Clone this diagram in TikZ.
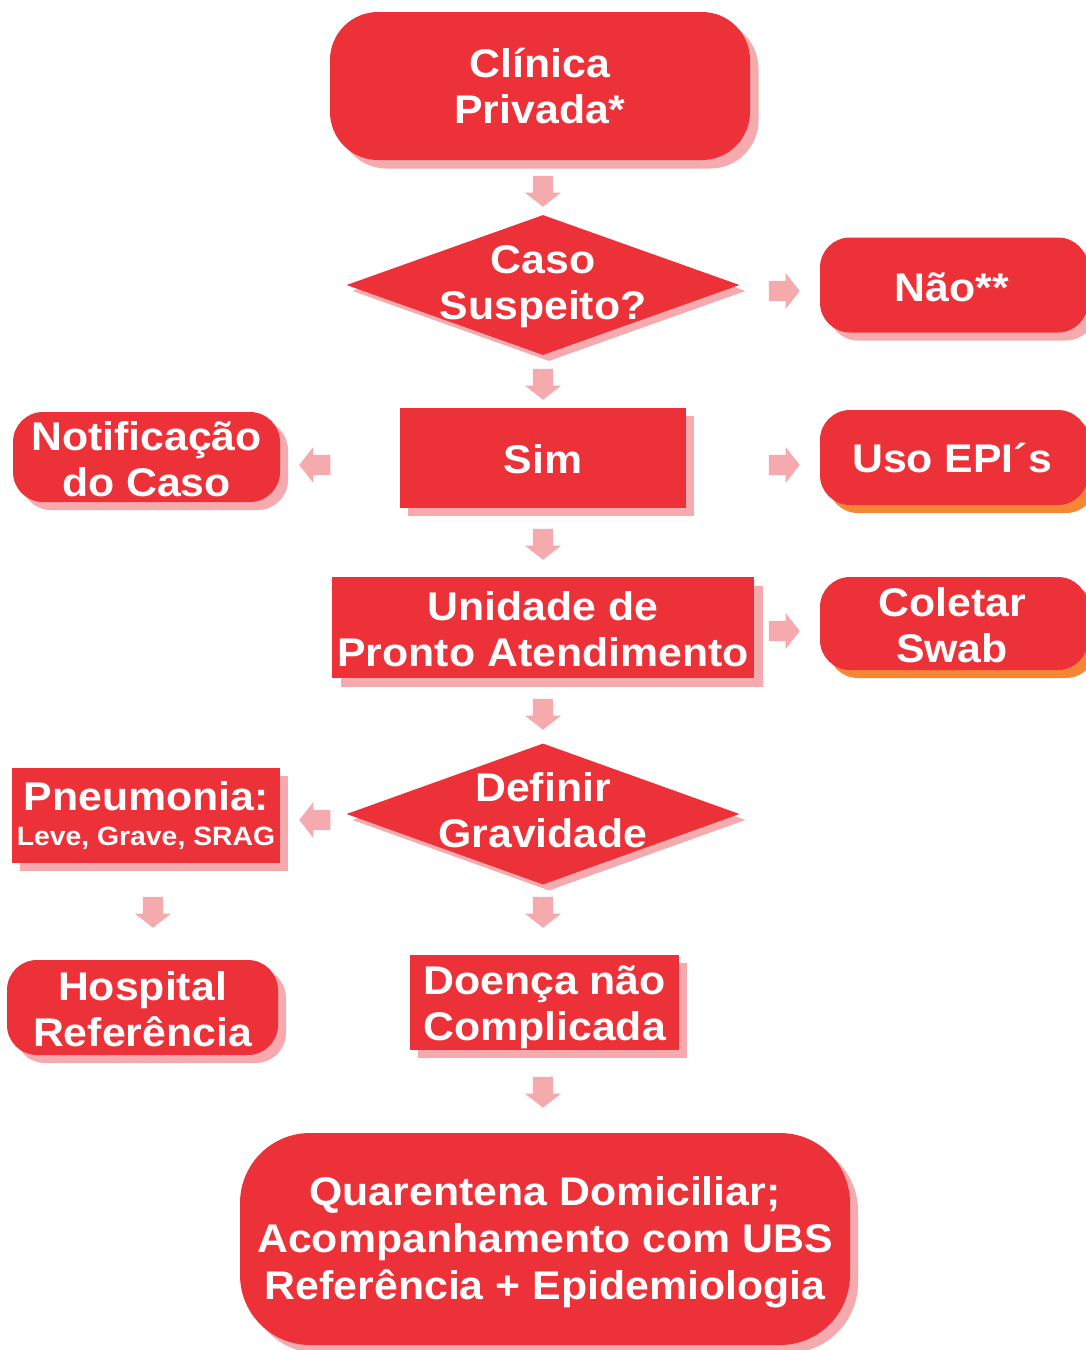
\documentclass[tikz,border=0pt]{standalone}
\usepackage{fontspec}
\setmainfont{Liberation Sans}[FakeStretch=1.07]
\usetikzlibrary{shapes.geometric,shapes.arrows,shadows}
\definecolor{fcred}{HTML}{EC3238}
\definecolor{fcpink}{HTML}{F5AAAE}
\definecolor{fcorange}{HTML}{F58634}
\tikzset{
  box/.style={fill=fcred, draw=none, text=white, align=center, inner sep=0pt,
    font=\fontsize{40}{46}\selectfont\bfseries},
  txt/.style={text=white, align=center, inner sep=0pt,
    font=\fontsize{40}{46}\selectfont\bfseries},
  pshadow/.style={drop shadow={shadow xshift=#1, shadow yshift=-#1, fill=fcpink, opacity=1}},
  oshadow/.style={drop shadow={shadow xshift=#1, shadow yshift=-#1, fill=fcorange, opacity=1}},
  dia/.style={diamond, fill=fcred, draw=none, inner sep=0pt,
    drop shadow={shadow xshift=6pt, shadow yshift=-6pt, fill=fcpink, opacity=1}},
  barrow/.style={single arrow, fill=fcpink, draw=none, inner sep=0pt, inner ysep=10pt,
    single arrow head extend=8pt, single arrow tip angle=104, minimum height=31pt, anchor=tip},
  downarrow/.style={barrow, rotate=-90},
  rightarrow/.style={barrow},
  leftarrow/.style={barrow, rotate=180},
}
\begin{document}
\begin{tikzpicture}[x=1pt, y=-1pt]
\useasboundingbox (0,0) rectangle (1085,1350);

% nodes
\node[box, pshadow=8.5pt, rounded corners=48pt, minimum width=420pt, minimum height=148pt] (clin) at (540,86) {Clínica\\Privada*};
\node[dia, minimum width=393pt, minimum height=140pt] (d1) at (543,285) {};
\node[txt] (d1t) at (543,287) {Caso\\Suspeito?};
\node[box, pshadow=8pt, rounded corners=30pt, minimum width=268pt, minimum height=95pt] (nao) at (954,285) {};
\node[txt] (naot) at (952,287) {Não**};
\node[box, pshadow=8pt, minimum width=286pt, minimum height=100pt] (sim) at (543,458) {};
\node[txt] (simt) at (543,459) {Sim};
\node[box, pshadow=8pt, rounded corners=30pt, minimum width=267pt, minimum height=90pt] (notif) at (146.5,457) {};
\node[txt] (notift) at (146.5,459) {Notificação\\do Caso};
\node[box, oshadow=8pt, rounded corners=30pt, minimum width=268pt, minimum height=95pt] (uso) at (954,457.5) {};
\node[txt] (usot) at (952,458) {Uso EPI´s};
\node[box, pshadow=9pt, minimum width=422pt, minimum height=101pt] (upa) at (543,627.5) {};
\node[txt] (upat) at (543,629) {Unidade de\\Pronto Atendimento};
\node[box, oshadow=8pt, rounded corners=30pt, minimum width=268pt, minimum height=93pt] (swab) at (954,623.5) {};
\node[txt] (swabt) at (952,625) {Coletar\\Swab};
\node[dia, minimum width=393pt, minimum height=141pt] (d2) at (543,814) {};
\node[txt] (d2t) at (543,810) {Definir\\Gravidade};
\node[box, pshadow=7.5pt, minimum width=268pt, minimum height=95pt] (pneu) at (146,815.5)
  {Pneumonia:\\[-11pt]{\fontsize{26.5}{30}\selectfont Leve, Grave, SRAG}};
\node[box, pshadow=8pt, rounded corners=30pt, minimum width=271pt, minimum height=95pt] (hosp) at (142.5,1007.5) {};
\node[txt] (hospt) at (142.5,1009.5) {Hospital\\Referência};
\node[box, pshadow=8pt, minimum width=269pt, minimum height=95pt] (doen) at (544.5,1002.5) {};
\node[txt] (doent) at (544.5,1007.5) {Doença não\\Complicada};
\node[box, pshadow=8pt, rounded corners=70pt, minimum width=610pt, minimum height=212pt] (quar) at (545,1239) {};
\node[txt, font=\fontsize{40}{47}\selectfont\bfseries] (quart) at (545,1242)
  {Quarentena Domiciliar;\\Acompanhamento com UBS\\Referência + Epidemiologia};

% block arrows (anchored at their tips)
\node[downarrow] (a1) at (543,207) {};
\node[rightarrow] (a2) at (800,291) {};
\node[downarrow] (a3) at (543,400) {};
\node[leftarrow] (a4) at (299,465) {};
\node[rightarrow] (a5) at (800,465) {};
\node[downarrow] (a6) at (543,560) {};
\node[rightarrow] (a7) at (800,631) {};
\node[downarrow] (a8) at (543,730) {};
\node[leftarrow] (a9) at (299,820) {};
\node[downarrow] (a10) at (153,928) {};
\node[downarrow] (a11) at (543,928) {};
\node[downarrow] (a12) at (543,1108) {};
\end{tikzpicture}
\end{document}
